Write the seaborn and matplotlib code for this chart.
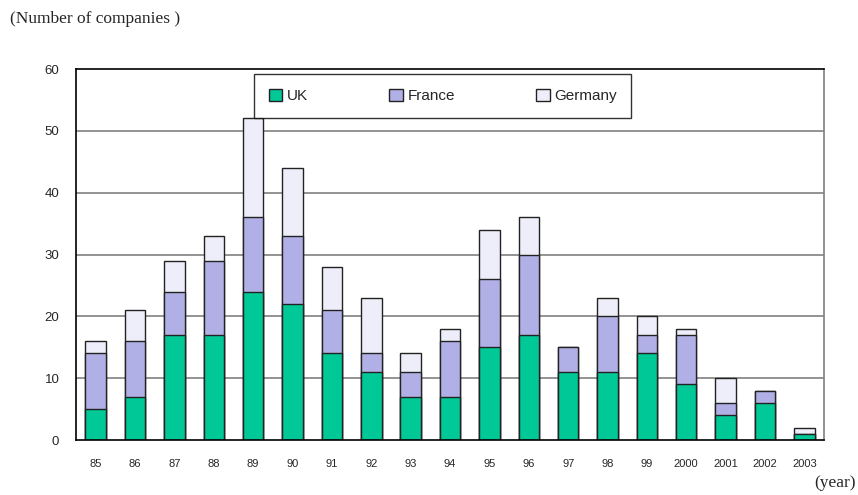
import matplotlib
matplotlib.use("Agg")
import matplotlib.pyplot as plt
import seaborn as sns
import pandas as pd
import numpy as np
from matplotlib.patches import Patch

years = ["85", "86", "87", "88", "89", "90", "91", "92", "93", "94", "95", "96",
         "97", "98", "99", "2000", "2001", "2002", "2003"]
uk = [5, 7, 17, 17, 24, 22, 14, 11, 7, 7, 15, 17, 11, 11, 14, 9, 4, 6, 1]
france = [9, 9, 7, 12, 12, 11, 7, 3, 4, 9, 11, 13, 4, 9, 3, 8, 2, 2, 0]
germany = [2, 5, 5, 4, 16, 11, 7, 9, 3, 2, 8, 6, 0, 3, 3, 1, 4, 0, 1]
series = ["UK", "France", "Germany"]
colors = {"UK": "#00C896", "France": "#B0B0E6", "Germany": "#EEEEFA"}
yticks = [0, 10, 20, 30, 40, 50, 60]

sns.set_theme(style="white")
plt.rcParams["font.family"] = ["Liberation Sans", "DejaVu Sans"]

df = pd.DataFrame({"year": years, "UK": uk, "France": france, "Germany": germany})
df["cum_uk"] = df["UK"]
df["cum_fr"] = df["UK"] + df["France"]
df["cum_de"] = df["cum_fr"] + df["Germany"]

fig = plt.figure(figsize=(8.58, 4.95), dpi=100)
ax = fig.add_axes([0.0886, 0.111, 0.8718, 0.7496])

# gridlines
for v in yticks[1:-1]:
    ax.axhline(v, color="#808080", lw=1.2, zorder=0)

for col, name in [("cum_de", "Germany"), ("cum_fr", "France"), ("cum_uk", "UK")]:
    sns.barplot(data=df, x="year", y=col, color=colors[name], saturation=1,
                width=0.52, edgecolor="#222222", linewidth=1.0, ax=ax, zorder=2)

ax.set_xlim(-0.5, len(years) - 0.5)
ax.set_ylim(0, 60)
ax.set_yticks(yticks)
ax.set_yticklabels([str(v) for v in yticks], fontsize=9.5)
ax.set_xticks(range(len(years)))
ax.set_xticklabels(years, fontsize=8)
ax.set_xticks(np.arange(-0.5, len(years), 1.0), minor=True)
ax.tick_params(axis="x", which="major", length=0, pad=14)
ax.tick_params(axis="x", which="minor", length=4, direction="in", width=1, color="black")
ax.tick_params(axis="y", which="major", length=0, pad=12)
ax.set_xlabel("")
ax.set_ylabel("")

for s in ["left", "bottom", "top"]:
    ax.spines[s].set_color("black")
    ax.spines[s].set_linewidth(1.2)
ax.spines["right"].set_visible(True)
ax.spines["right"].set_color("#808080")
ax.spines["right"].set_linewidth(1.2)

handles = [Patch(facecolor=colors[s], edgecolor="#222222", label=s) for s in series]
leg = ax.legend(handles=handles, loc="upper left", bbox_to_anchor=(0.238, 0.9865),
                ncol=3, frameon=True, fancybox=False, fontsize=11,
                handlelength=0.9, handleheight=0.9, handletextpad=0.3,
                columnspacing=5.3, borderpad=0.95, borderaxespad=0)
leg.get_frame().set_edgecolor("black")
leg.get_frame().set_linewidth(1.0)

fig.text(0.012, 0.962, "(Number of companies )", fontsize=12.5,
         family=["Liberation Serif", "DejaVu Serif"], ha="left", va="center")
fig.text(0.997, 0.025, "(year)", fontsize=12.5,
         family=["Liberation Serif", "DejaVu Serif"], ha="right", va="center")

fig.savefig("out.png", dpi=100, facecolor="white")
